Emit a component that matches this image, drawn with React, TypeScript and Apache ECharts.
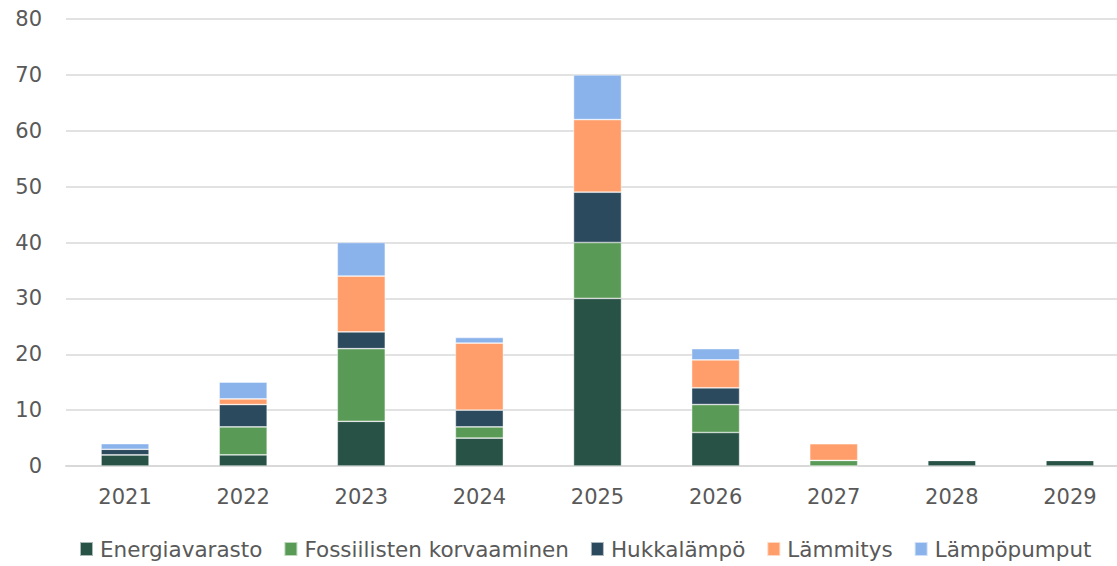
import React, { useEffect, useRef } from "react";
import * as echarts from "echarts";

const years = ["2021", "2022", "2023", "2024", "2025", "2026", "2027", "2028", "2029"];
const energiavarasto = [2, 2, 8, 5, 30, 6, 0, 1, 1];
const fossiilisten = [0, 5, 13, 2, 10, 5, 1, 0, 0];
const hukkalampo = [1, 4, 3, 3, 9, 3, 0, 0, 0];
const lammitys = [0, 1, 10, 12, 13, 5, 3, 0, 0];
const lampopumput = [1, 3, 6, 1, 8, 2, 0, 0, 0];

const seriesDefs = [
  { name: "Energiavarasto", data: energiavarasto, color: "#295246" },
  { name: "Fossiilisten korvaaminen", data: fossiilisten, color: "#5a9a57" },
  { name: "Hukkalämpö", data: hukkalampo, color: "#2c4a5d" },
  { name: "Lämmitys", data: lammitys, color: "#ff9e6a" },
  { name: "Lämpöpumput", data: lampopumput, color: "#8ab3eb" },
];

export default function App() {
  const ref = useRef<HTMLDivElement>(null);
  useEffect(() => {
    document.body.style.margin = "0";
    document.body.style.overflow = "hidden";
    const chart = echarts.init(ref.current!, null, { renderer: "svg" });
    const font = "'DejaVu Sans', sans-serif";
    chart.setOption({
      animation: false,
      textStyle: { fontFamily: font },
      grid: { left: 66, right: 0, top: 19, bottom: 100, containLabel: false },
      legend: {
        bottom: 1,
        left: 74,
        itemWidth: 13,
        itemHeight: 14,
        itemGap: 21,
        icon: "rect",
        textStyle: { color: "#595959", fontSize: 21.5, fontFamily: font, padding: [0, 0, 0, 2] },
        data: seriesDefs.map((s) => s.name),
      },
      xAxis: {
        type: "category",
        data: years,
        axisLine: { lineStyle: { color: "#d9d9d9", width: 2 } },
        axisTick: { show: false },
        axisLabel: { color: "#595959", fontSize: 21, margin: 20, fontFamily: font },
      },
      yAxis: {
        type: "value",
        min: 0,
        max: 80,
        interval: 10,
        axisLine: { show: false },
        axisTick: { show: false },
        splitLine: { lineStyle: { color: "#d9d9d9", width: 1.5 } },
        axisLabel: { color: "#595959", fontSize: 21, margin: 24, fontFamily: font },
      },
      series: seriesDefs.map((s) => ({
        name: s.name,
        type: "bar",
        stack: "total",
        barWidth: 48,
        data: s.data,
        itemStyle: { color: s.color, borderColor: "rgba(255,255,255,0.6)", borderWidth: 0.7 },
      })),
    });
    return () => chart.dispose();
  }, []);
  return <div ref={ref} style={{ width: 1129, height: 566 }} />;
}
